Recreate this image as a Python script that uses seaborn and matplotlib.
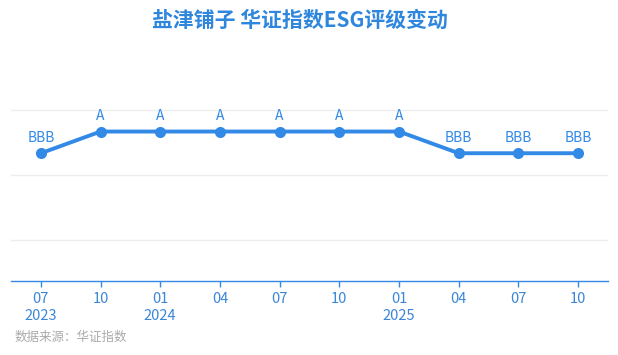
import matplotlib
matplotlib.use("Agg")
import matplotlib.pyplot as plt
import seaborn as sns
import pandas as pd

months = ["07", "10", "01", "04", "07", "10", "01", "04", "07", "10"]
years = ["2023", "", "2024", "", "", "", "2025", "", "", ""]
ratings = ["BBB", "A", "A", "A", "A", "A", "A", "BBB", "BBB", "BBB"]
rating_score = {"B": 3, "BB": 4, "BBB": 5, "A": 6, "AA": 7, "AAA": 8}

sns.set_theme(style="white")
plt.rcParams["font.family"] = ["Noto Sans CJK SC", "DejaVu Sans"]

blue = "#3389e6"
df = pd.DataFrame({
    "pos": list(range(len(months))),
    "score": [rating_score[r] for r in ratings],
    "rating": ratings,
})

fig = plt.figure(figsize=(6.18, 3.55), dpi=100)
ax = fig.add_axes([11 / 618, 1 - 281 / 355, 597 / 618, (281 - 99) / 355])

sns.lineplot(data=df, x="pos", y="score", ax=ax, color=blue, linewidth=2.8,
             marker="o", markersize=8, markeredgewidth=0, markerfacecolor=blue)

for _, row in df.iterrows():
    ax.annotate(row["rating"], (row["pos"], row["score"]), xytext=(0, 6),
                textcoords="offset points", ha="center", va="bottom",
                fontsize=10, color=blue)

ax.set_xlim(-0.5, len(months) - 0.5)
ax.set_ylim(-0.89, 7.5)
ax.set_yticks([1, 4, 7])
ax.yaxis.grid(True, color="#eeeeee", linewidth=1)
ax.tick_params(axis="y", left=False, labelleft=False)
ax.set_xticks(df["pos"])
ax.set_xticklabels([m + ("\n" + y if y else "") for m, y in zip(months, years)],
                   fontsize=10.5, color="#3a86d8", linespacing=1.3, va="top")
ax.tick_params(axis="x", bottom=True, direction="out", length=4, width=1,
               color=blue, pad=4)
ax.set_xlabel("")
ax.set_ylabel("")
for s in ["top", "right", "left"]:
    ax.spines[s].set_visible(False)
ax.spines["bottom"].set_color(blue)
ax.spines["bottom"].set_linewidth(1)

fig.text(300 / 618, 1 - 20 / 355, "盐津铺子 华证指数ESG评级变动", ha="center", va="center",
         fontsize=15, fontweight="bold", color="#2f86dd")
fig.text(15 / 618, 1 - 337 / 355, "数据来源：华证指数", ha="left", va="center",
         fontsize=9, color="#aaaaaa")

fig.savefig("out.png", dpi=100)
